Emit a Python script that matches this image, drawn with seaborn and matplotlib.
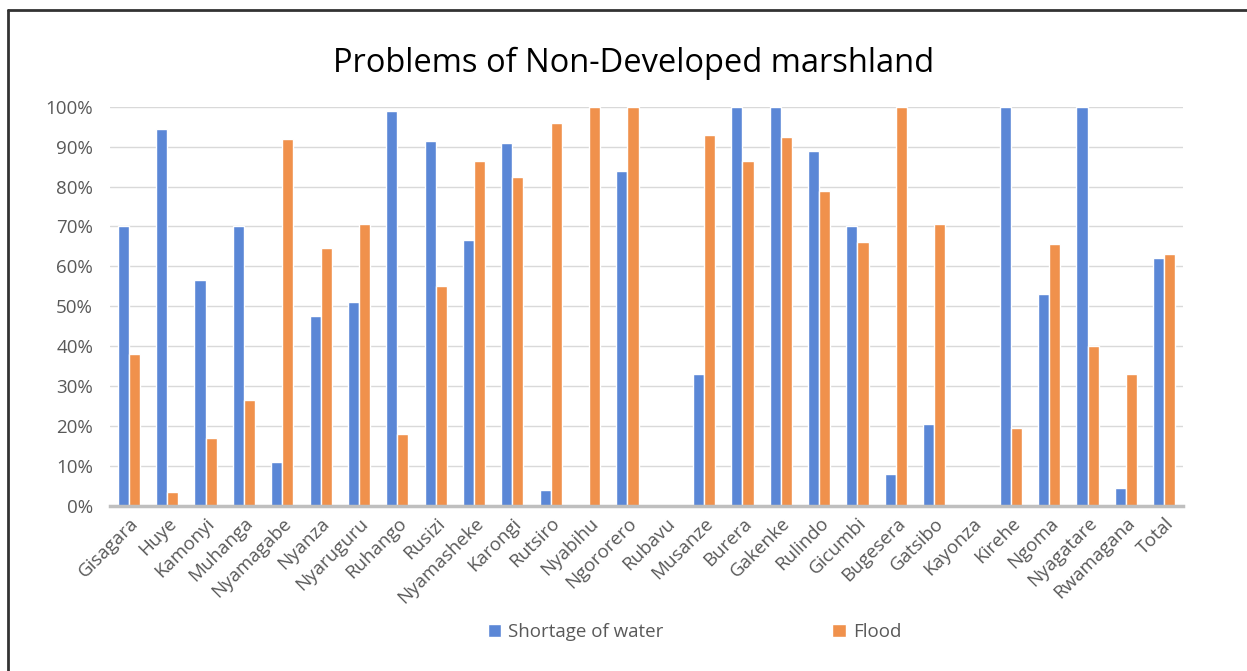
import numpy as np
import pandas as pd
import seaborn as sns
import matplotlib.pyplot as plt
from matplotlib.lines import Line2D
from matplotlib.ticker import PercentFormatter

districts = ["Gisagara", "Huye", "Kamonyi", "Muhanga", "Nyamagabe", "Nyanza",
             "Nyaruguru", "Ruhango", "Rusizi", "Nyamasheke", "Karongi", "Rutsiro",
             "Nyabihu", "Ngororero", "Rubavu", "Musanze", "Burera", "Gakenke",
             "Rulindo", "Gicumbi", "Bugesera", "Gatsibo", "Kayonza", "Kirehe",
             "Ngoma", "Nyagatare", "Rwamagana", "Total"]
shortage = [70, 94.5, 56.5, 70, 11, 47.5, 51, 99, 91.5, 66.5, 91, 4, 0, 84, 0,
            33, 100, 100, 89, 70, 8, 20.5, 0, 100, 53, 100, 4.5, 62]
flood = [38, 3.5, 17, 26.5, 92, 64.5, 70.5, 18, 55, 86.5, 82.5, 96, 100, 100, 0,
         93, 86.5, 92.5, 79, 66, 100, 70.5, 0, 19.5, 65.5, 40, 33, 63]
series = ["Shortage of water", "Flood"]

df = pd.DataFrame({"district": districts * 2,
                   "problem": [series[0]] * len(districts) + [series[1]] * len(districts),
                   "value": shortage + flood})

sns.set_theme(style="white")
plt.rcParams['font.family'] = ['Open Sans', 'DejaVu Sans']

fig = plt.figure(figsize=(12.47, 6.71), dpi=100)
ax = fig.add_axes([0.088, 0.246, 0.861, 0.595])

sns.barplot(data=df, x="district", y="value", hue="problem", order=districts,
            palette=["#5b87d6", "#f0914c"], saturation=1, width=0.58, gap=0,
            ax=ax, legend=True, errorbar=None)

ax.set_ylim(0, 100)
ax.set_yticks(np.arange(0, 101, 10))
ax.yaxis.set_major_formatter(PercentFormatter(decimals=0))
ax.grid(axis="y", color="#d9d9d9", linewidth=1)
ax.set_axisbelow(True)
ax.set_xlim(-0.5, len(districts) - 0.5)
ax.set_xlabel("")
ax.set_ylabel("")
for s in ["top", "right", "left"]:
    ax.spines[s].set_visible(False)
ax.spines["bottom"].set_color("#bfbfbf")
ax.spines["bottom"].set_linewidth(2.5)
ax.tick_params(axis="both", length=0, colors="#595959", labelsize=13.5)
ax.tick_params(axis="y", pad=12)
ax.tick_params(axis="x", pad=6)
plt.setp(ax.get_xticklabels(), rotation=45, ha="right", rotation_mode="anchor")

handles, labels = ax.get_legend_handles_labels()
ax.get_legend().remove()
fig.legend(handles, labels, loc="center", bbox_to_anchor=(0.557, 0.058), ncol=2,
           frameon=False, fontsize=13.5, handlelength=0.7, handleheight=0.7,
           handletextpad=0.4, columnspacing=9, labelcolor="#595959")

fig.text(0.508, 0.906, "Problems of Non-Developed marshland", ha="center",
         va="center", fontsize=23.5, color="black")

# frame lines on left and top edges
fig.add_artist(Line2D([0.0064, 0.0064], [0, 0.985], color="#333333", linewidth=2,
                      transform=fig.transFigure))
fig.add_artist(Line2D([0.0064, 1], [0.985, 0.985], color="#333333", linewidth=2,
                      transform=fig.transFigure))

fig.savefig("out.png", dpi=100, facecolor="white")
